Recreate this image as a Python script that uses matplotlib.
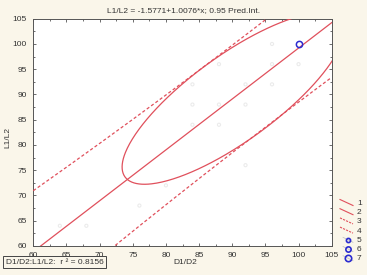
import numpy as np
import matplotlib
matplotlib.use("Agg")
import matplotlib.pyplot as plt
from matplotlib.lines import Line2D
from matplotlib.ticker import MultipleLocator

plt.rcParams['font.family'] = ['Liberation Sans', 'DejaVu Sans']

# regression L1/L2 on D1/D2 (from the title)
intercept = -1.5771
slope = 1.0076
r_squared = 0.8156

# observations (faint grey points) and the highlighted case
obs_x = [96, 100, 96, 88, 84, 92, 96, 84, 88, 92, 84, 88, 92, 80, 76, 64, 68]
obs_y = [100, 96, 96, 96, 92, 92, 92, 88, 88, 88, 84, 84, 76, 72, 68, 64, 64]
marked_x = [100]
marked_y = [100]

# 0.95 ellipse (centre, half extents, correlation)
ell_cx, ell_cy = 90.15, 89.21
ell_ax, ell_ay = 16.76, 16.99
ell_rho = 0.799

# prediction interval parameters
n_obs = 18
t_crit = 2.12
resid_sd = 4.88
pi_mean_x = 93.0
sxx = 3567.0

legend_labels = ['1', '2', '3', '4', '5', '6', '7']

RED = '#e0505c'
BLUE = '#2b2bd0'
TXT = '#333333'

fig = plt.figure(figsize=(3.67, 2.75), dpi=100)
fig.patch.set_facecolor('#faf6ea')
ax = fig.add_axes([0.0908, 0.1055, 0.813, 0.8265])
ax.set_facecolor('white')

xs = np.linspace(60, 105, 300)
fit = intercept + slope * xs
half = t_crit * resid_sd * np.sqrt(1 + 1 / n_obs + (xs - pi_mean_x) ** 2 / sxx)

ax.scatter(obs_x, obs_y, s=5, facecolors='none', edgecolors='#ebebeb', linewidths=0.8, zorder=1)
ax.plot(xs, fit, color=RED, lw=0.9, zorder=3)
ax.plot(xs, fit + half, color=RED, lw=0.9, ls=(0, (2.5, 1.8)), zorder=3)
ax.plot(xs, fit - half, color=RED, lw=0.9, ls=(0, (2.5, 1.8)), zorder=3)

t = np.linspace(0, 2 * np.pi, 400)
ex = ell_cx + ell_ax * np.cos(t)
ey = ell_cy + ell_ay * (ell_rho * np.cos(t) + np.sqrt(1 - ell_rho ** 2) * np.sin(t))
ax.plot(ex, ey, color=RED, lw=0.9, zorder=3)

ax.plot(marked_x, marked_y, 'o', ms=4.5, mfc='none', mec=BLUE, mew=1.1, zorder=4)

ax.set_xlim(60, 105)
ax.set_ylim(60, 105)
ax.xaxis.set_major_locator(MultipleLocator(5))
ax.yaxis.set_major_locator(MultipleLocator(5))
ax.xaxis.set_minor_locator(MultipleLocator(2.5))
ax.yaxis.set_minor_locator(MultipleLocator(2.5))
ax.tick_params(which='both', direction='in', top=True, right=True, colors='#555555',
               labelcolor=TXT, labelsize=6, width=0.6)
ax.tick_params(which='major', length=2.5, pad=4.5)
ax.tick_params(which='minor', length=1.5)
for sp in ax.spines.values():
    sp.set_color('#555555')
    sp.set_linewidth(0.7)

fig.text(0.5, 0.962, 'L1/L2 = -1.5771+1.0076*x; 0.95 Pred.Int.', ha='center', va='center',
         fontsize=6, color=TXT)
fig.text(0.505, 0.047, 'D1/D2', ha='center', va='center', fontsize=6, color=TXT)
fig.text(0.022, 0.5, 'L1/L2', ha='center', va='center', rotation=90, fontsize=6, color=TXT)
fig.text(0.015, 0.047, f'D1/D2:L1/L2:  r \u00b2 = {r_squared}', ha='left', va='center',
         fontsize=6, color=TXT,
         bbox=dict(boxstyle='square,pad=0.35', facecolor='none', edgecolor='#444444', lw=0.7))

# legend drawn in figure pixels at the right edge
W, H = 367, 275
for i, lab in enumerate(legend_labels):
    yc = 203.5 + i * 9.2
    fig.text(357 / W, 1 - yc / H, lab, ha='left', va='center', fontsize=6, color=TXT)
    if i < 4:
        style = '-' if i < 2 else (0, (2, 1))
        fig.add_artist(Line2D([340 / W, 353 / W], [1 - (yc - 4) / H, 1 - (yc + 2) / H],
                              transform=fig.transFigure, color=RED, lw=0.8, ls=style))
    else:
        fig.add_artist(Line2D([343 / W, 353 / W], [1 - (yc - 3) / H, 1 - (yc + 2) / H],
                              transform=fig.transFigure, color='#bbbbbb', lw=0.5))
        fig.add_artist(Line2D([347.5 / W], [1 - (yc - 0.5) / H], transform=fig.transFigure,
                              marker='o', ms=3 + (i - 4) * 0.8, mfc='none', mec=BLUE, mew=1.2))

fig.savefig('out.png', dpi=100, facecolor=fig.get_facecolor())
